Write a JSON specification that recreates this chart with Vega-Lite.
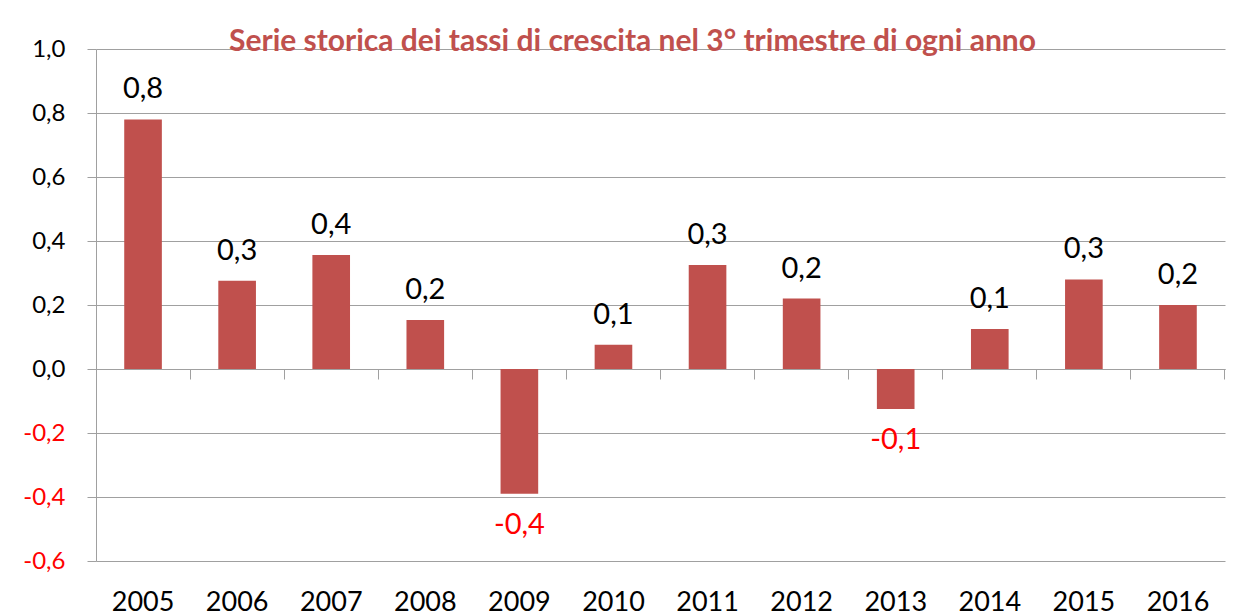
{
  "$schema": "https://vega.github.io/schema/vega-lite/v6.json",
  "width": 1129,
  "height": 512,
  "autosize": {"type": "none"},
  "padding": {"left": 96, "top": 49, "right": 25, "bottom": 55},
  "background": "white",
  "config": {
    "locale": {"number": {"decimal": ",", "thousands": ".", "grouping": [3], "currency": ["", " €"], "minus": "-"}},
    "view": {"stroke": null},
    "font": "Lato"
  },
  "title": {
    "text": "Serie storica dei tassi di crescita nel 3° trimestre di ogni anno",
    "font": "Lato",
    "fontSize": 30,
    "fontWeight": "bold",
    "color": "#C0504D",
    "anchor": "middle",
    "dx": -28,
    "dy": 43,
    "baseline": "middle",
    "offset": 8,
    "frame": "group"
  },
  "data": {
    "values": [
      {"anno": "2005", "valore": 0.78},
      {"anno": "2006", "valore": 0.276},
      {"anno": "2007", "valore": 0.356},
      {"anno": "2008", "valore": 0.153},
      {"anno": "2009", "valore": -0.39},
      {"anno": "2010", "valore": 0.076},
      {"anno": "2011", "valore": 0.325},
      {"anno": "2012", "valore": 0.22},
      {"anno": "2013", "valore": -0.125},
      {"anno": "2014", "valore": 0.125},
      {"anno": "2015", "valore": 0.28},
      {"anno": "2016", "valore": 0.2}
    ]
  },
  "layer": [
    {
      "mark": {"type": "bar", "color": "#C0504D"},
      "encoding": {
        "x": {
          "field": "anno", "type": "nominal", "sort": null,
          "scale": {"paddingInner": 0.6, "paddingOuter": 0.3},
          "axis": {
            "orient": "bottom", "title": null, "domain": false, "ticks": false, "grid": false,
            "labelAngle": 0, "labelFont": "Lato", "labelFontSize": 27, "labelColor": "black",
            "labelPadding": 28
          }
        },
        "y": {
          "field": "valore", "type": "quantitative",
          "scale": {"domain": [-0.6, 1.0], "nice": false, "zero": false},
          "axis": {
            "title": null,
            "values": [-0.6, -0.4, -0.2, 0, 0.2, 0.4, 0.6, 0.8, 1.0],
            "format": ".1f",
            "grid": true, "gridColor": "#a0a0a0", "gridWidth": 1,
            "domain": true, "domainColor": "#a0a0a0",
            "ticks": true, "tickColor": "#a0a0a0", "tickSize": 9,
            "labelFont": "Lato", "labelFontSize": 24, "labelPadding": 22,
            "labelColor": {"expr": "datum.value < 0 ? '#FF0000' : 'black'"}
          }
        }
      }
    },
    {
      "transform": [{"filter": "datum.valore >= 0"}],
      "mark": {"type": "text", "baseline": "bottom", "dy": -15, "fontSize": 29, "font": "Lato", "color": "black"},
      "encoding": {
        "x": {
          "field": "anno", "type": "nominal", "sort": null,
          "axis": {
            "orient": "bottom", "offset": -192, "title": null, "labels": false, "grid": false,
            "domain": true, "domainColor": "#a0a0a0", "ticks": true, "tickColor": "#a0a0a0",
            "tickSize": 10, "bandPosition": 1.75
          }
        },
        "y": {"field": "valore", "type": "quantitative"},
        "text": {"field": "valore", "type": "quantitative", "format": ".1f"}
      }
    },
    {
      "transform": [{"filter": "datum.valore < 0"}],
      "mark": {"type": "text", "baseline": "top", "dy": 17, "fontSize": 29, "font": "Lato", "color": "#FF0000"},
      "encoding": {
        "x": {"field": "anno", "type": "nominal", "sort": null, "axis": null},
        "y": {"field": "valore", "type": "quantitative"},
        "text": {"field": "valore", "type": "quantitative", "format": ".1f"}
      }
    }
  ],
  "resolve": {"axis": {"x": "independent"}}
}
